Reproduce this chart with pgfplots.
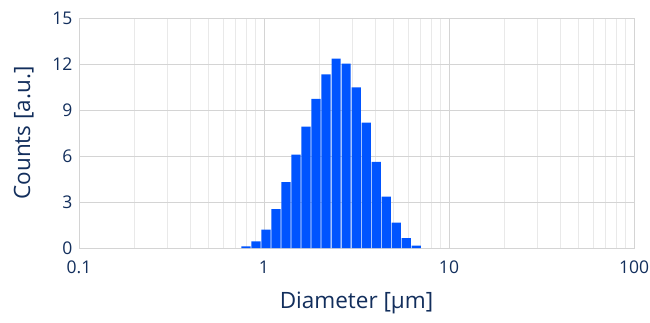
\documentclass[border=0pt]{standalone}
\usepackage{fontspec}
\setmainfont{Open Sans}
\usepackage{pgfplots}
\pgfplotsset{compat=1.18}
\definecolor{barblue}{RGB}{0,84,255}
\definecolor{txt}{RGB}{18,46,92}
\definecolor{gmaj}{RGB}{212,212,212}
\definecolor{gmin}{RGB}{233,233,233}
\begin{document}
\begin{tikzpicture}[x=1pt,y=1pt]
\path[use as bounding box] (0,0) rectangle (650,322);
\begin{axis}[
  at={(79pt,74pt)}, anchor=south west,
  scale only axis, width=555pt, height=230pt,
  xmode=log, xmin=0.1, xmax=100, ymin=0, ymax=15,
  ytick={0,3,6,9,12,15},
  xtick={0.1,1,10,100}, xticklabels={0.1,1,10,100},
  log ticks with fixed point,
  /pgf/number format/assume math mode=true,
  grid=both,
  major grid style={gmaj, line width=0.8pt},
  minor grid style={gmin, line width=0.6pt},
  minor y tick num=0,
  axis line style={gmaj, line width=0.9pt},
  tick style={draw=none},
  ticklabel style={font=\fontsize{17.5}{17.5}\selectfont, text=txt},
  xticklabel style={yshift=-9pt},
  yticklabel style={xshift=-3pt},
  label style={font=\fontsize{22.5}{22.5}\selectfont, text=txt},
  xlabel={Diameter [µm]},
  ylabel={Counts [a.u.]},
  xlabel style={yshift=-12pt},
  ylabel style={yshift=12pt},
]
\addplot[ybar, bar width=9.2pt, fill=barblue, draw=none, bar shift=0pt] coordinates {
(0.799,0.10) (0.905,0.43) (1.025,1.20) (1.161,2.54) (1.315,4.30)
(1.490,6.09) (1.688,7.91) (1.912,9.72) (2.166,11.33) (2.454,12.35)
(2.780,12.02) (3.149,10.48) (3.567,8.17) (4.041,5.61) (4.578,3.35)
(5.186,1.65) (5.875,0.65) (6.655,0.15)
};
\end{axis}
\end{tikzpicture}
\end{document}
